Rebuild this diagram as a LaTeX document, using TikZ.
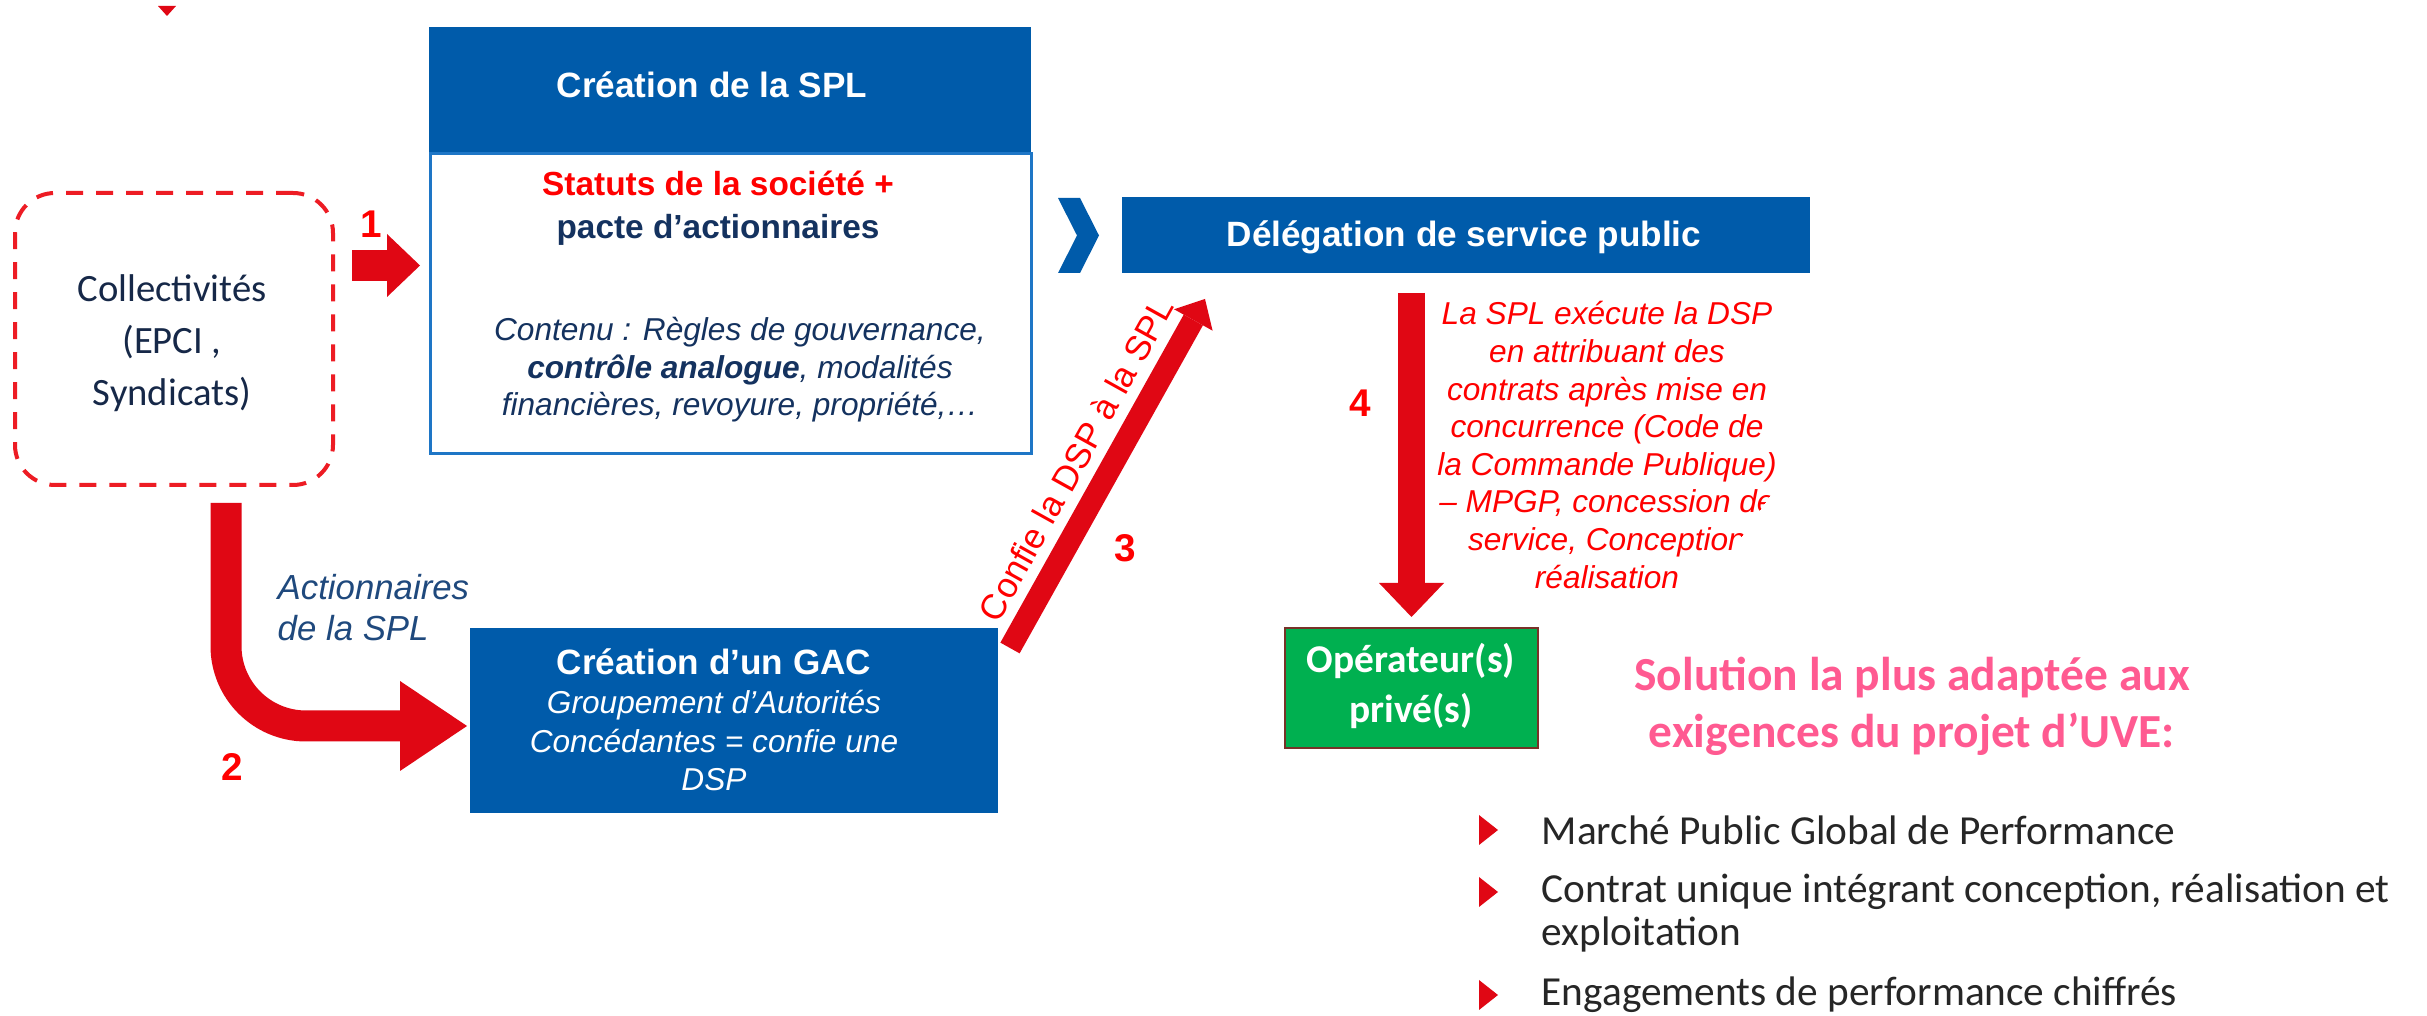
\documentclass[tikz,border=0pt]{standalone}
\usepackage{fontspec}
\setmainfont{Liberation Sans}
\newfontfamily\calfont{Carlito}
\usetikzlibrary{calc}
\definecolor{boxblue}{RGB}{0,91,170}
\definecolor{lineblue}{RGB}{30,118,198}
\definecolor{arrred}{RGB}{224,7,20}
\definecolor{txtred}{RGB}{255,0,0}
\definecolor{navy}{RGB}{20,50,95}
\definecolor{collnavy}{RGB}{22,40,72}
\definecolor{actblue}{RGB}{31,73,125}
\definecolor{opgreen}{RGB}{0,176,80}
\definecolor{opborder}{RGB}{120,50,40}
\definecolor{pinkt}{RGB}{255,90,145}
\definecolor{bullettxt}{RGB}{38,38,38}
\definecolor{dashred}{RGB}{237,28,36}
\tikzset{
  fillbox/.style={rectangle, fill=boxblue, inner sep=0pt},
  txt/.style={inner sep=0pt},
  num/.style={text=txtred, font=\bfseries\fontsize{11pt}{13pt}\selectfont, inner sep=0pt},
  shaft/.style={draw=arrred, line cap=butt},
  bul/.style={text=bullettxt, font=\calfont\fontsize{11.75pt}{12.5pt}\selectfont, anchor=west, inner sep=0pt, align=left},
}
\begin{document}
\begin{tikzpicture}[x=0.1mm,y=-0.1mm]
\useasboundingbox[fill=white] (0,0) rectangle (2427,1016);

% small top triangle
\fill[arrred] (158,6) -- (176,6) -- (167,16) -- cycle;

% Collectivites
\node[draw=dashred, line width=0.4mm, dash pattern=on 1.7mm off 1.3mm, rounded corners=4mm, minimum width=31.8mm, minimum height=29.2mm, inner sep=0pt] (coll) at (174,339) {};
\node[txt, text=collnavy, font=\calfont\fontsize{11pt}{14.8pt}\selectfont, align=center] (colltxt) at (172,343.5) {Collectivités\\(EPCI ,\\Syndicats)};

% SPL header and body
\node[fillbox, minimum width=60.2mm, minimum height=12.7mm] (splhead) at (730,90.5) {};
\node[txt, text=white, font=\bfseries\fontsize{10pt}{12pt}\selectfont] (splheadtxt) at (712,85) {Création de la SPL};
\node[draw=lineblue, line width=0.3mm, fill=white, minimum width=60.1mm, minimum height=30mm, inner sep=0pt] (splbody) at (730.5,304) {};
\node[txt, font=\bfseries\fontsize{9.5pt}{12.2pt}\selectfont, align=center] (statuts) at (718,208) {\textcolor{txtred}{Statuts de la société +}\\\textcolor{navy}{pacte d’actionnaires}};
\node[txt, text=navy, font=\itshape\fontsize{9pt}{10.7pt}\selectfont, align=center] (contenu) at (740,370) {Contenu : Règles de gouvernance,\\\textbf{contrôle analogue}, modalités\\financières, revoyure, propriété,…};

% GAC
\node[fillbox, minimum width=52.8mm, minimum height=18.5mm] (gac) at (734,720.5) {};
\node[txt, text=white, align=center, font=\itshape\fontsize{9pt}{11pt}\selectfont] (gactxt) at (714,720) {{\upshape\bfseries\fontsize{10pt}{11pt}\selectfont Création d’un GAC}\\Groupement d’Autorités\\Concédantes = confie une\\DSP};

% Delegation
\fill[boxblue] (1058,198) -- (1080,198) -- (1099,235.5) -- (1080,273) -- (1058,273) -- (1077,235.5) -- cycle;
\node[fillbox, minimum width=68.8mm, minimum height=7.6mm] (dsp) at (1466,235) {};
\node[txt, text=white, font=\bfseries\fontsize{10pt}{12pt}\selectfont] (dsptxt) at (1464,237) {Délégation de service public};

% Operateurs
\node[fill=opgreen, draw=opborder, line width=0.25mm, minimum width=25.3mm, minimum height=12mm, inner sep=0pt] (op) at (1411.5,688) {};
\node[txt, text=white, font=\calfont\bfseries\fontsize{11.2pt}{14.5pt}\selectfont, align=center] (optxt) at (1411,686) {Opérateur(s)\\privé(s)};

% red italic text (clipped on the right as in the picture)
\begin{scope}
\clip (1300,280) -- (1800,280) -- (1800,478) -- (1782,478) -- (1725,560) -- (1725,620) -- (1300,620) -- cycle;
\node[txt, text=txtred, font=\itshape\fontsize{9pt}{10.7pt}\selectfont, align=center] (spltxt) at (1607,445) {La SPL exécute la DSP\\en attribuant des\\contrats après mise en\\concurrence (Code de\\la Commande Publique)\\– MPGP, concession de\\service, Conception\\réalisation};
\end{scope}

% arrow 1
\coordinate (a1s) at (352,265.5);
\coordinate (a1b) at (387,265.5);
\coordinate (a1t) at (420,265.5);
\draw[shaft, line width=3.1mm] (a1s) -- (a1b);
\fill[arrred] (387,234) -- (a1t) -- (387,297) -- cycle;

% arrow 2
\coordinate (a2s) at (226,503);
\coordinate (a2c) at (226,726);
\coordinate (a2b) at (400,726);
\coordinate (a2t) at (467,726);
\draw[shaft, line width=3.1mm, rounded corners=8mm] (a2s) -- (a2c) -- (a2b);
\fill[arrred] (400,681) -- (a2t) -- (400,771) -- cycle;

% arrow 3
\coordinate (a3s) at (1010,648);
\coordinate (a3b) at (1193.3,320);
\coordinate (a3t) at (1205,299);
\draw[shaft, line width=2.2mm] (a3s) -- (a3b);
\fill[arrred] (1174.1,309.3) -- (a3t) -- (1212.6,330.7) -- cycle;
\node[txt, text=txtred, font=\fontsize{10pt}{12pt}\selectfont, rotate=60.95] (confie) at (1076,459) {Confie la DSP à la SPL};

% arrow 4
\coordinate (a4s) at (1411.5,293);
\coordinate (a4b) at (1411.5,583);
\coordinate (a4t) at (1411.5,617);
\draw[shaft, line width=2.7mm] (a4s) -- (a4b);
\fill[arrred] (1379,583) -- (a4t) -- (1444,583) -- cycle;

% numbers
\node[num] (n1) at (371,224) {1};
\node[num] (n2) at (232,767) {2};
\node[num] (n3) at (1125,548) {3};
\node[num] (n4) at (1360,403) {4};

% Actionnaires
\node[text=actblue, font=\itshape\fontsize{9.9pt}{11.7pt}\selectfont, align=left, anchor=west, inner sep=0pt] (act) at (277,608) {Actionnaires\\de la SPL};

% Solution
\node[txt, text=pinkt, font=\calfont\bfseries\fontsize{13.5pt}{16.2pt}\selectfont, align=center] (sol) at (1912,706) {Solution la plus adaptée aux\\exigences du projet d’UVE:};

% bullets
\fill[arrred] (1479,815) -- (1498,830) -- (1479,845) -- cycle;
\fill[arrred] (1479,877) -- (1498,892) -- (1479,907) -- cycle;
\fill[arrred] (1479,980) -- (1498,995) -- (1479,1010) -- cycle;
\node[bul] (b1) at (1541,830) {Marché Public Global de Performance};
\node[bul] (b2) at (1541,913) {Contrat unique intégrant conception, réalisation et\\exploitation};
\node[bul] (b3) at (1541,995) {Engagements de performance chiffrés};
\end{tikzpicture}
\end{document}
